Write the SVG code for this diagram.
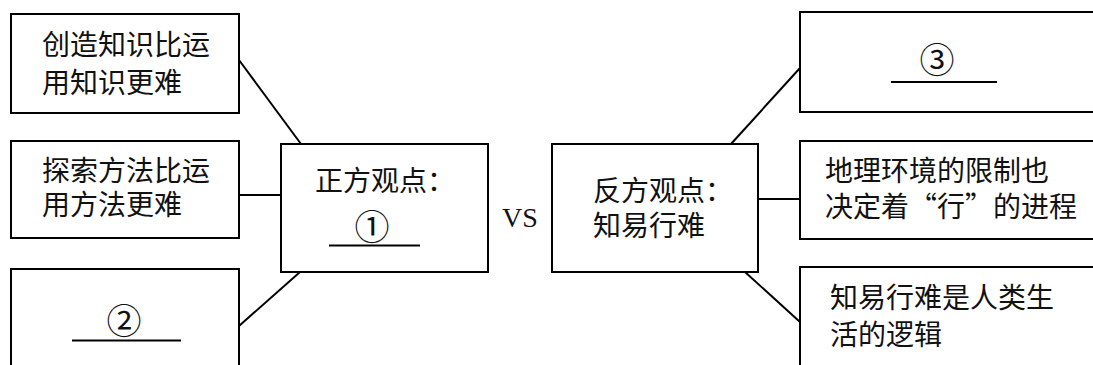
<svg xmlns="http://www.w3.org/2000/svg" width="1093" height="365" viewBox="0 0 1093 365">
<style>
.box{fill:#fff;stroke:#000;stroke-width:2}
.ln{stroke:#000;stroke-width:2;fill:none}
.t{font-family:"Noto Sans CJK SC","Noto Sans",sans-serif;font-size:28px;fill:#111}
.c{font-family:"Noto Sans CJK SC","DejaVu Sans",sans-serif;font-size:35px;fill:#111;text-anchor:middle}
.vs{font-family:"Liberation Serif",serif;font-size:28px;fill:#111}
</style>
<rect width="1093" height="365" fill="#fff"/>
<g id="connectors">
<line class="ln" x1="239" y1="60" x2="301" y2="144"/>
<line class="ln" x1="239" y1="195" x2="281" y2="195"/>
<line class="ln" x1="239" y1="326" x2="300" y2="272"/>
<line class="ln" x1="731" y1="144" x2="800" y2="68"/>
<line class="ln" x1="758" y1="199" x2="800" y2="199"/>
<line class="ln" x1="745" y1="272" x2="800" y2="322"/>
</g>
<g id="left1">
<rect class="box" x="11" y="14" width="228" height="99"/>
<text class="t" x="42" y="55">创造知识比运</text>
<text class="t" x="42" y="93">用知识更难</text>
</g>
<g id="left2">
<rect class="box" x="11" y="141" width="228" height="97"/>
<text class="t" x="42" y="181">探索方法比运</text>
<text class="t" x="42" y="215">用方法更难</text>
</g>
<g id="left3">
<rect class="box" x="11" y="269" width="228" height="110"/>
<text class="c" x="124" y="334">②</text>
<line class="ln" x1="72" y1="340.5" x2="181" y2="340.5"/>
</g>
<g id="pro">
<rect class="box" x="281" y="144" width="207" height="128"/>
<text class="t" x="315" y="191">正方观点：</text>
<text class="c" x="372" y="240">①</text>
<line class="ln" x1="329" y1="245.5" x2="420" y2="245.5"/>
</g>
<g id="vs">
<text class="vs" x="502" y="227">VS</text>
</g>
<g id="con">
<rect class="box" x="552" y="144" width="206" height="128"/>
<text class="t" x="593" y="201">反方观点：</text>
<text class="t" x="593" y="236">知易行难</text>
</g>
<g id="right1">
<rect class="box" x="800" y="12" width="310" height="100"/>
<text class="c" x="937" y="73">③</text>
<line class="ln" x1="891" y1="82" x2="997" y2="82"/>
</g>
<g id="right2">
<rect class="box" x="800" y="141" width="310" height="98"/>
<text class="t" x="825" y="181">地理环境的限制也</text>
<text class="t" x="825" y="217">决定着“行”的进程</text>
</g>
<g id="right3">
<rect class="box" x="800" y="267" width="310" height="110"/>
<text class="t" x="830" y="308">知易行难是人类生</text>
<text class="t" x="830" y="345">活的逻辑</text>
</g>
</svg>
